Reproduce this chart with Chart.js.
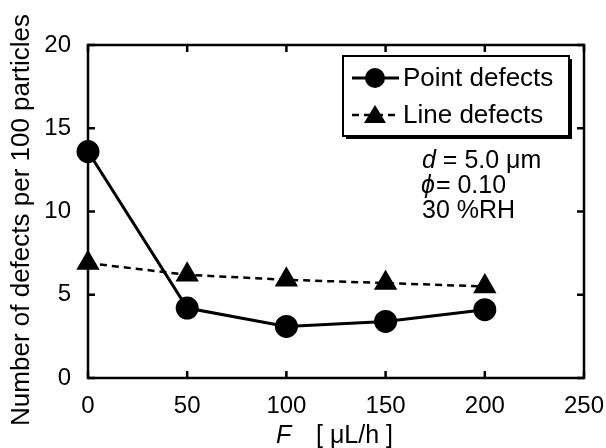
<!DOCTYPE html>
<html>
<head>
<meta charset="utf-8">
<script src="https://cdn.jsdelivr.net/npm/chart.js@4.4.1/dist/chart.umd.min.js"></script>
<style>
  html, body { margin: 0; padding: 0; background: #fff; }
  #wrap { width: 606px; height: 448px; }
</style>
</head>
<body>
<div id="wrap"><canvas id="c" width="606" height="448"></canvas></div>
<script>
const flowRates = [0, 50, 100, 150, 200];
const pointDefects = [13.6, 4.2, 3.1, 3.4, 4.1];
const lineDefects = [6.9, 6.2, 5.9, 5.7, 5.5];
const xTicks = [0, 50, 100, 150, 200, 250];
const yTicks = [0, 5, 10, 15, 20];

const FONT = '"Liberation Sans", Arial, sans-serif';

// frame, inward ticks, legend box, notes and axis titles
const decor = {
  id: 'decor',
  afterDatasetsDraw(chart) {
    const { ctx, chartArea: a, scales: { x, y } } = chart;
    ctx.save();
    ctx.strokeStyle = '#000';
    ctx.lineWidth = 2.5;
    ctx.strokeRect(a.left, a.top, a.right - a.left, a.bottom - a.top);
    const t = 7;
    ctx.beginPath();
    xTicks.forEach(v => {
      const px = x.getPixelForValue(v);
      ctx.moveTo(px, a.bottom); ctx.lineTo(px, a.bottom - t);
      ctx.moveTo(px, a.top); ctx.lineTo(px, a.top + t);
    });
    yTicks.forEach(v => {
      const py = y.getPixelForValue(v);
      ctx.moveTo(a.left, py); ctx.lineTo(a.left + t, py);
      ctx.moveTo(a.right, py); ctx.lineTo(a.right - t, py);
    });
    ctx.stroke();

    // legend
    const bx = 343, by = 56, bw = 226, bh = 80;
    ctx.fillStyle = '#000';
    ctx.fillRect(bx + 3, by + 3, bw, bh);
    ctx.fillStyle = '#fff';
    ctx.fillRect(bx, by, bw, bh);
    ctx.lineWidth = 2;
    ctx.strokeRect(bx, by, bw, bh);

    const rows = [
      { y: 78, label: 'Point defects', ds: chart.data.datasets[0] },
      { y: 115, label: 'Line defects', ds: chart.data.datasets[1] }
    ];
    rows.forEach(r => {
      ctx.beginPath();
      ctx.lineWidth = r.ds.borderWidth;
      ctx.setLineDash(r.ds.borderDash || []);
      ctx.moveTo(352, r.y); ctx.lineTo(399, r.y);
      ctx.stroke();
      ctx.setLineDash([]);
      ctx.fillStyle = '#000';
      ctx.beginPath();
      if (r.ds.pointStyle === 'circle') {
        ctx.arc(375, r.y, 10, 0, Math.PI * 2);
      } else {
        ctx.moveTo(375, r.y - 10); ctx.lineTo(386, r.y + 8); ctx.lineTo(364, r.y + 8); ctx.closePath();
      }
      ctx.fill();
      ctx.font = '26px ' + FONT;
      ctx.textBaseline = 'middle';
      ctx.textAlign = 'left';
      ctx.fillText(r.label, 403, r.y + 1);
    });

    // notes
    ctx.textBaseline = 'middle';
    ctx.font = 'italic 25px ' + FONT;
    ctx.fillText('d', 422, 161);
    let w = ctx.measureText('d').width;
    ctx.font = '25px ' + FONT;
    ctx.fillText(' = 5.0 \u03bcm', 422 + w, 161);
    ctx.font = 'italic 25px ' + FONT;
    ctx.fillText('\u03d5', 421, 186);
    w = ctx.measureText('\u03d5').width;
    ctx.font = '25px ' + FONT;
    ctx.fillText('= 0.10', 421 + w + 1, 186);
    ctx.fillText('30 %RH', 422, 211);

    // x title
    ctx.font = 'italic 25px ' + FONT;
    ctx.textBaseline = 'alphabetic';
    ctx.fillText('F', 276, 443);
    ctx.font = '25px ' + FONT;
    ctx.fillText('[ \u03bcL/h ]', 316, 443);

    // y title
    ctx.translate(22, 220);
    ctx.rotate(-Math.PI / 2);
    ctx.font = '26px ' + FONT;
    ctx.textAlign = 'center';
    ctx.textBaseline = 'middle';
    ctx.fillText('Number of defects per 100 particles', 0, 0);
    ctx.restore();
  }
};

new Chart(document.getElementById('c'), {
  type: 'line',
  data: {
    datasets: [
      {
        label: 'Point defects',
        data: flowRates.map((f, i) => ({ x: f, y: pointDefects[i] })),
        borderColor: '#000', backgroundColor: '#000',
        borderWidth: 3, pointStyle: 'circle', pointRadius: 10,
        clip: false
      },
      {
        label: 'Line defects',
        data: flowRates.map((f, i) => ({ x: f, y: lineDefects[i] })),
        borderColor: '#000', backgroundColor: '#000',
        borderWidth: 2.5, borderDash: [7, 5], pointStyle: 'triangle', pointRadius: 11,
        clip: false
      }
    ]
  },
  options: {
    responsive: false,
    animation: false,
    layout: { padding: { left: 0, right: 22, top: 45, bottom: 0 } },
    plugins: { legend: { display: false }, tooltip: { enabled: false } },
    scales: {
      x: {
        type: 'linear', min: 0, max: 250,
        afterBuildTicks: s => { s.ticks = xTicks.map(v => ({ value: v })); },
        afterFit: s => { s.height = 70; s.paddingLeft = 0; s.paddingRight = 0; },
        grid: { display: false }, border: { display: false },
        ticks: { color: '#000', padding: 6, font: { family: FONT, size: 24 } }
      },
      y: {
        min: 0, max: 20,
        afterBuildTicks: s => { s.ticks = yTicks.map(v => ({ value: v })); },
        afterFit: s => { s.width = 88; s.paddingTop = 0; s.paddingBottom = 0; },
        grid: { display: false }, border: { display: false },
        ticks: { color: '#000', padding: 9, font: { family: FONT, size: 24 } }
      }
    }
  },
  plugins: [decor]
});
</script>
</body>
</html>
